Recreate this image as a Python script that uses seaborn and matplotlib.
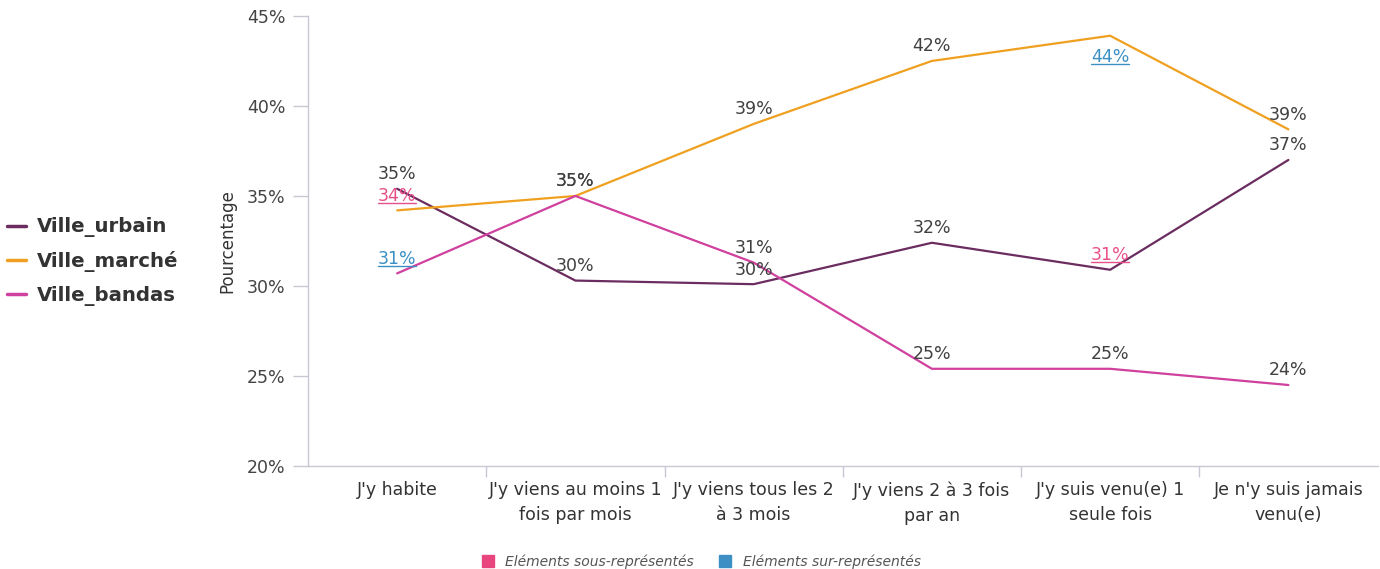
import matplotlib
matplotlib.use("Agg")
import matplotlib.pyplot as plt
from matplotlib.lines import Line2D
from matplotlib.patches import Patch
import seaborn as sns
import pandas as pd
import numpy as np

# Categories and series values (percent)
categories = [
    "J'y habite",
    "J'y viens au moins 1\nfois par mois",
    "J'y viens tous les 2\nà 3 mois",
    "J'y viens 2 à 3 fois\npar an",
    "J'y suis venu(e) 1\nseule fois",
    "Je n'y suis jamais\nvenu(e)",
]
series_names = ["Ville_urbain", "Ville_marché", "Ville_bandas"]
urbain = [35.4, 30.3, 30.1, 32.4, 30.9, 37.0]
marche = [34.2, 35.0, 39.0, 42.5, 43.9, 38.7]
bandas = [30.7, 35.0, 31.3, 25.4, 25.4, 24.5]

# Over/under-representation flags for each point
urbain_flag = [None, None, None, None, "sous", None]
marche_flag = ["sous", None, None, None, "sur", None]
bandas_flag = ["sur", None, None, None, None, None]

yticks = [20, 25, 30, 35, 40, 45]
note_labels = ["Eléments sous-représentés", "Eléments sur-représentés"]

colors = {"Ville_urbain": "#6b2c60", "Ville_marché": "#f0a020", "Ville_bandas": "#d0409e"}
flag_colors = {"sous": "#e8508a", "sur": "#3d8fc4", None: "#404040"}
label_dy = {"Ville_urbain": [4, 4, 4, 4, 4, 4],
            "Ville_marché": [4, 4, 4, 4, -9, 4],
            "Ville_bandas": [4, 4, 4, 4, 4, 4]}

values = {"Ville_urbain": urbain, "Ville_marché": marche, "Ville_bandas": bandas}
flags = {"Ville_urbain": urbain_flag, "Ville_marché": marche_flag, "Ville_bandas": bandas_flag}

df = pd.DataFrame({
    "categorie": categories * 3,
    "serie": np.repeat(series_names, len(categories)),
    "valeur": urbain + marche + bandas,
})

sns.set_theme(style="white")
plt.rcParams["font.family"] = ["DejaVu Sans"]

fig = plt.figure(figsize=(13.8, 5.69), dpi=100)
ax = fig.add_axes([0.2232, 0.181, 0.775, 0.791])

sns.lineplot(data=df, x="categorie", y="valeur", hue="serie", palette=colors,
             linewidth=1.6, sort=False, ax=ax, legend=False)

ax.set_xlim(-0.5, len(categories) - 0.5)
ax.set_ylim(20, 45)
ax.set_yticks(yticks)
ax.set_yticklabels([f"{v}%" for v in yticks], fontsize=12.5, color="#444444")
ax.set_xticks(range(len(categories)))
ax.set_xticklabels(categories, fontsize=12.5, color="#333333", linespacing=1.5)
ax.set_xticks(np.arange(0.5, len(categories) - 1, 1.0), minor=True)
ax.tick_params(axis="x", which="major", length=0, pad=11)
ax.tick_params(axis="x", which="minor", length=8, color="#c8c8d4", width=1, bottom=True)
ax.tick_params(axis="y", length=11, color="#c8c8d4", width=1, pad=5, left=True)
ax.set_xlabel("")
ax.set_ylabel("Pourcentage", fontsize=12, color="#333333", labelpad=8)

for s in ["top", "right"]:
    ax.spines[s].set_visible(False)
for s in ["left", "bottom"]:
    ax.spines[s].set_color("#c8c8d4")
    ax.spines[s].set_linewidth(1)

# Value labels
texts = []
for name in series_names:
    for i, v in enumerate(values[name]):
        fl = flags[name][i]
        dy = label_dy[name][i]
        t = ax.annotate(f"{round(v):d}%", (i, v), xytext=(0, dy), textcoords="offset points",
                        ha="center", va="bottom" if dy > 0 else "top",
                        fontsize=12.5, color=flag_colors[fl])
        if fl is not None:
            texts.append((t, flag_colors[fl]))

# Underline flagged labels
fig.canvas.draw()
inv = fig.transFigure.inverted()
for t, c in texts:
    bb = t.get_window_extent()
    (x0, y0), (x1, _) = inv.transform([(bb.x0, bb.y0 + 2), (bb.x1, bb.y0 + 2)])
    fig.add_artist(Line2D([x0, x1], [y0, y0], color=c, linewidth=1))

# Series legend on the left
handles = [Line2D([0], [0], color=colors[n], linewidth=2.5) for n in series_names]
leg = fig.legend(handles, series_names, loc="center left", bbox_to_anchor=(-0.008, 0.54),
                 frameon=False, handlelength=1.0, handletextpad=0.55, labelspacing=0.7,
                 prop={"size": 14.2, "weight": "bold"})
for txt in leg.get_texts():
    txt.set_color("#333333")

# Note legend at the bottom
note_handles = [Patch(color="#e8457f"), Patch(color="#3d8fc4")]
leg2 = fig.legend(note_handles, note_labels, loc="center", bbox_to_anchor=(0.508, 0.013),
                  ncol=2, frameon=False, handlelength=0.9, handleheight=0.9,
                  handletextpad=0.8, columnspacing=1.8,
                  prop={"size": 10, "style": "italic"})
for txt in leg2.get_texts():
    txt.set_color("#555555")

fig.savefig("out.png", dpi=100)
